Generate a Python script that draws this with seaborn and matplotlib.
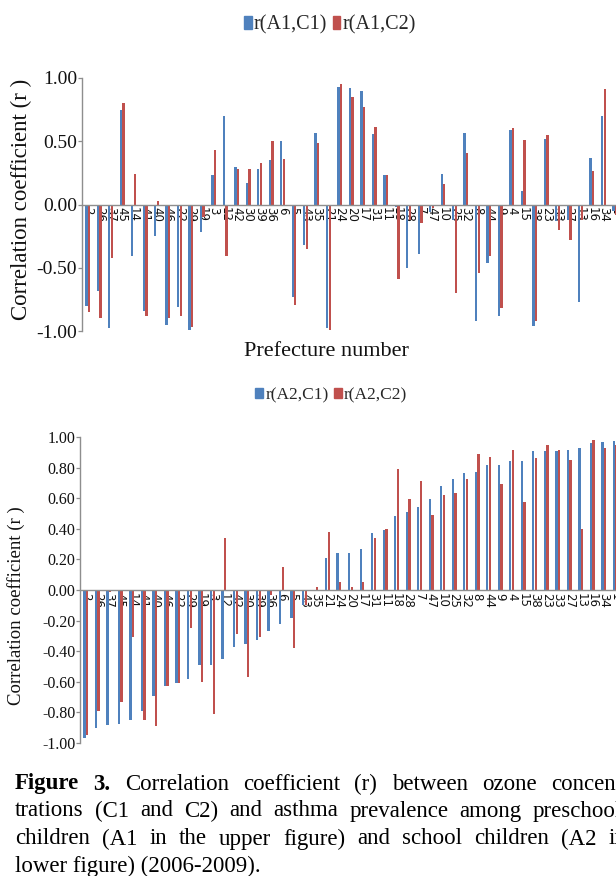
import matplotlib
matplotlib.use("Agg")
import matplotlib.pyplot as plt
import pandas as pd
import seaborn as sns
from matplotlib.patches import Patch

# Prefectures, ordered by r(A2,C1)
prefectures = ["2", "26", "37", "45", "14", "41", "40", "46", "22", "29", "19", "3",
               "12", "42", "30", "39", "36", "6", "5", "43", "35", "21", "24", "20",
               "17", "31", "11", "18", "28", "7", "47", "10", "25", "32", "8", "44",
               "9", "4", "15", "38", "23", "33", "27", "13", "16", "34", "1"]

# Preschool children (A1)
a1_c1 = [-0.80, -0.68, -0.98, 0.75, -0.41, -0.84, -0.25, -0.95, -0.81, -0.99, -0.22, 0.23,
         0.70, 0.30, 0.17, 0.28, 0.355, 0.50, -0.73, -0.32, 0.565, -0.98, 0.93, 0.92,
         0.90, 0.555, 0.237, -0.02, -0.50, -0.39, -0.06, 0.245, -0.12, 0.565, -0.92, -0.46,
         -0.88, 0.59, 0.105, -0.96, 0.52, -0.13, -0.12, -0.77, 0.37, 0.70, -0.05]
a1_c2 = [-0.85, -0.90, -0.42, 0.80, 0.24, -0.88, 0.03, -0.90, -0.88, -0.97, -0.10, 0.43,
         -0.41, 0.28, 0.28, 0.33, 0.50, 0.36, -0.795, -0.355, 0.49, -0.99, 0.95, 0.85,
         0.77, 0.61, 0.237, -0.59, -0.12, -0.15, -0.03, 0.16, -0.70, 0.41, -0.545, -0.41,
         -0.82, 0.605, 0.51, -0.92, 0.55, -0.20, -0.28, -0.12, 0.265, 0.91, -0.08]

# School children (A2)
a2_c1 = [-0.97, -0.90, -0.88, -0.876, -0.85, -0.79, -0.69, -0.63, -0.61, -0.58, -0.49, -0.49,
         -0.45, -0.375, -0.35, -0.325, -0.27, -0.22, -0.18, -0.10, 0.0, 0.21, 0.24, 0.24,
         0.27, 0.37, 0.39, 0.486, 0.51, 0.54, 0.595, 0.68, 0.725, 0.765, 0.77, 0.82,
         0.82, 0.845, 0.845, 0.906, 0.906, 0.91, 0.917, 0.926, 0.96, 0.965, 0.976]
a2_c2 = [-0.95, -0.79, -0.01, -0.73, -0.31, -0.85, -0.89, -0.63, -0.61, -0.25, -0.60, -0.81,
         0.34, -0.29, -0.57, -0.31, -0.03, 0.15, -0.38, -0.10, 0.02, 0.38, 0.05, 0.017,
         0.05, 0.34, 0.40, 0.79, 0.595, 0.71, 0.49, 0.62, 0.634, 0.725, 0.89, 0.87,
         0.69, 0.917, 0.577, 0.86, 0.95, 0.917, 0.85, 0.40, 0.98, 0.926, 0.95]

top_series = ["r(A1,C1)", "r(A1,C2)"]
bottom_series = ["r(A2,C1)", "r(A2,C2)"]

top_yticks = [-1.0, -0.5, 0.0, 0.5, 1.0]
top_yticklabels = ["-1.00", "-0.50", "0.00", "0.50", "1.00"]
bottom_yticks = [-1.0, -0.8, -0.6, -0.4, -0.2, 0.0, 0.2, 0.4, 0.6, 0.8, 1.0]
bottom_yticklabels = ["-1.00", "-0.80", "-0.60", "-0.40", "-0.20", "0.00",
                      "0.20", "0.40", "0.60", "0.80", "1.00"]

y_label = "Correlation coefficient (r )"
x_label = "Prefecture number"
caption_lines = [
    [("Figure", "bold"), ("3.", "bold"), ("Correlation", "normal"), ("coefficient", "normal"),
     ("(r)", "normal"), ("between", "normal"), ("ozone", "normal"), ("concen-", "normal")],
    [("trations", "normal"), ("(C1", "normal"), ("and", "normal"), ("C2)", "normal"),
     ("and", "normal"), ("asthma", "normal"), ("prevalence", "normal"), ("among", "normal"),
     ("preschool", "normal")],
    [("children", "normal"), ("(A1", "normal"), ("in", "normal"), ("the", "normal"),
     ("upper", "normal"), ("figure)", "normal"), ("and", "normal"), ("school", "normal"),
     ("children", "normal"), ("(A2", "normal"), ("in", "normal")],
]
caption_last = "lower figure) (2006-2009)."

BLUE = "#4F81BD"
RED = "#C0504D"
GRAY = "#8E8E8E"
INK = "#111111"
SERIF = "Liberation Serif"

sns.set_theme(style="white")
plt.rcParams["axes.unicode_minus"] = False
plt.rcParams["font.family"] = [SERIF, "DejaVu Serif"]

W, H = 616, 876
fig = plt.figure(figsize=(W / 100, H / 100), dpi=100)


def long_frame(series, v1, v2):
    return pd.DataFrame({
        "prefecture": prefectures * 2,
        "series": [series[0]] * len(prefectures) + [series[1]] * len(prefectures),
        "r": list(v1) + list(v2),
    })


def draw_panel(rect, series, v1, v2, yticks, yticklabels, ytick_size):
    ax = fig.add_axes(rect)
    sns.barplot(data=long_frame(series, v1, v2), x="prefecture", y="r", hue="series",
                order=prefectures, hue_order=series, palette=[BLUE, RED],
                saturation=1, width=0.46, gap=0.12, errorbar=None,
                linewidth=0, legend=False, ax=ax)
    ax.set_xlim(-0.5, len(prefectures) - 0.5)
    ax.set_ylim(-1.0, 1.0)
    ax.set_xlabel("")
    ax.set_ylabel("")
    ax.set_yticks(yticks)
    ax.set_yticklabels(yticklabels, fontsize=ytick_size, family=SERIF)
    ax.spines["top"].set_visible(False)
    ax.spines["right"].set_visible(False)
    ax.spines["bottom"].set_position(("data", 0))
    for side in ("left", "bottom"):
        ax.spines[side].set_color(GRAY)
        ax.spines[side].set_linewidth(1.0)
    ax.tick_params(axis="y", left=True, length=3, width=0.9, color=GRAY,
                   pad=0.5, labelcolor=INK)
    ax.tick_params(axis="x", bottom=False, length=0, pad=2, labelrotation=-90,
                   labelsize=8.5, labelcolor=INK)
    for lbl in ax.get_xticklabels():
        lbl.set_fontfamily("DejaVu Sans")
    ax.patch.set_alpha(0)
    return ax


ax_top = draw_panel([82 / W, 1 - 331 / H, 47 * 11.46 / W, 253 / H],
                    top_series, a1_c1, a1_c2, top_yticks, top_yticklabels, 14)
ax_bot = draw_panel([80 / W, 1 - 743 / H, 47 * 11.51 / W, 306 / H],
                    bottom_series, a2_c1, a2_c2, bottom_yticks, bottom_yticklabels, 11.5)

# Legends above each panel
fig.legend(handles=[Patch(color=BLUE), Patch(color=RED)], labels=top_series,
           loc="center", bbox_to_anchor=(330 / W, 1 - 25 / H), ncol=2, frameon=False,
           fontsize=14.5, handlelength=0.36, handleheight=0.68, handletextpad=0.1,
           columnspacing=0.3, borderpad=0, borderaxespad=0)
fig.legend(handles=[Patch(color=BLUE), Patch(color=RED)], labels=bottom_series,
           loc="center", bbox_to_anchor=(331 / W, 1 - 395 / H), ncol=2, frameon=False,
           fontsize=12.5, handlelength=0.5, handleheight=0.5, handletextpad=0.1,
           columnspacing=0.3, borderpad=0, borderaxespad=0)

# Axis titles
fig.text(21 / W, 1 - 199 / H, y_label, rotation=90, ha="center", va="center",
         fontsize=16.5, family=SERIF, color=INK)
fig.text(16 / W, 1 - 606 / H, y_label, rotation=90, ha="center", va="center",
         fontsize=13.5, family=SERIF, color=INK)
fig.text(326 / W, 1 - 352 / H, x_label, ha="center", va="center",
         fontsize=16, family=SERIF, color=INK)

# Justified caption below the panels
renderer = fig.canvas.get_renderer()
cap_size = 16.5
cap_left = 15
cap_rights = [623, 622, 626]
cap_ys = [784, 811, 839]
for words, y_px, x_right in zip(caption_lines, cap_ys, cap_rights):
    texts, widths = [], []
    for word, weight in words:
        t = fig.text(0, 1 - y_px / H, word, fontsize=cap_size, fontweight=weight,
                     family=SERIF, ha="left", va="center", color="black")
        widths.append(t.get_window_extent(renderer).width)
        texts.append(t)
    space = (x_right - cap_left - sum(widths)) / (len(words) - 1)
    x = cap_left
    for t, w in zip(texts, widths):
        t.set_x(x / W)
        x += w + space
fig.text(cap_left / W, 1 - 866 / H, caption_last, fontsize=cap_size, family=SERIF,
         ha="left", va="center", color="black")

fig.savefig("out.png", dpi=100)
